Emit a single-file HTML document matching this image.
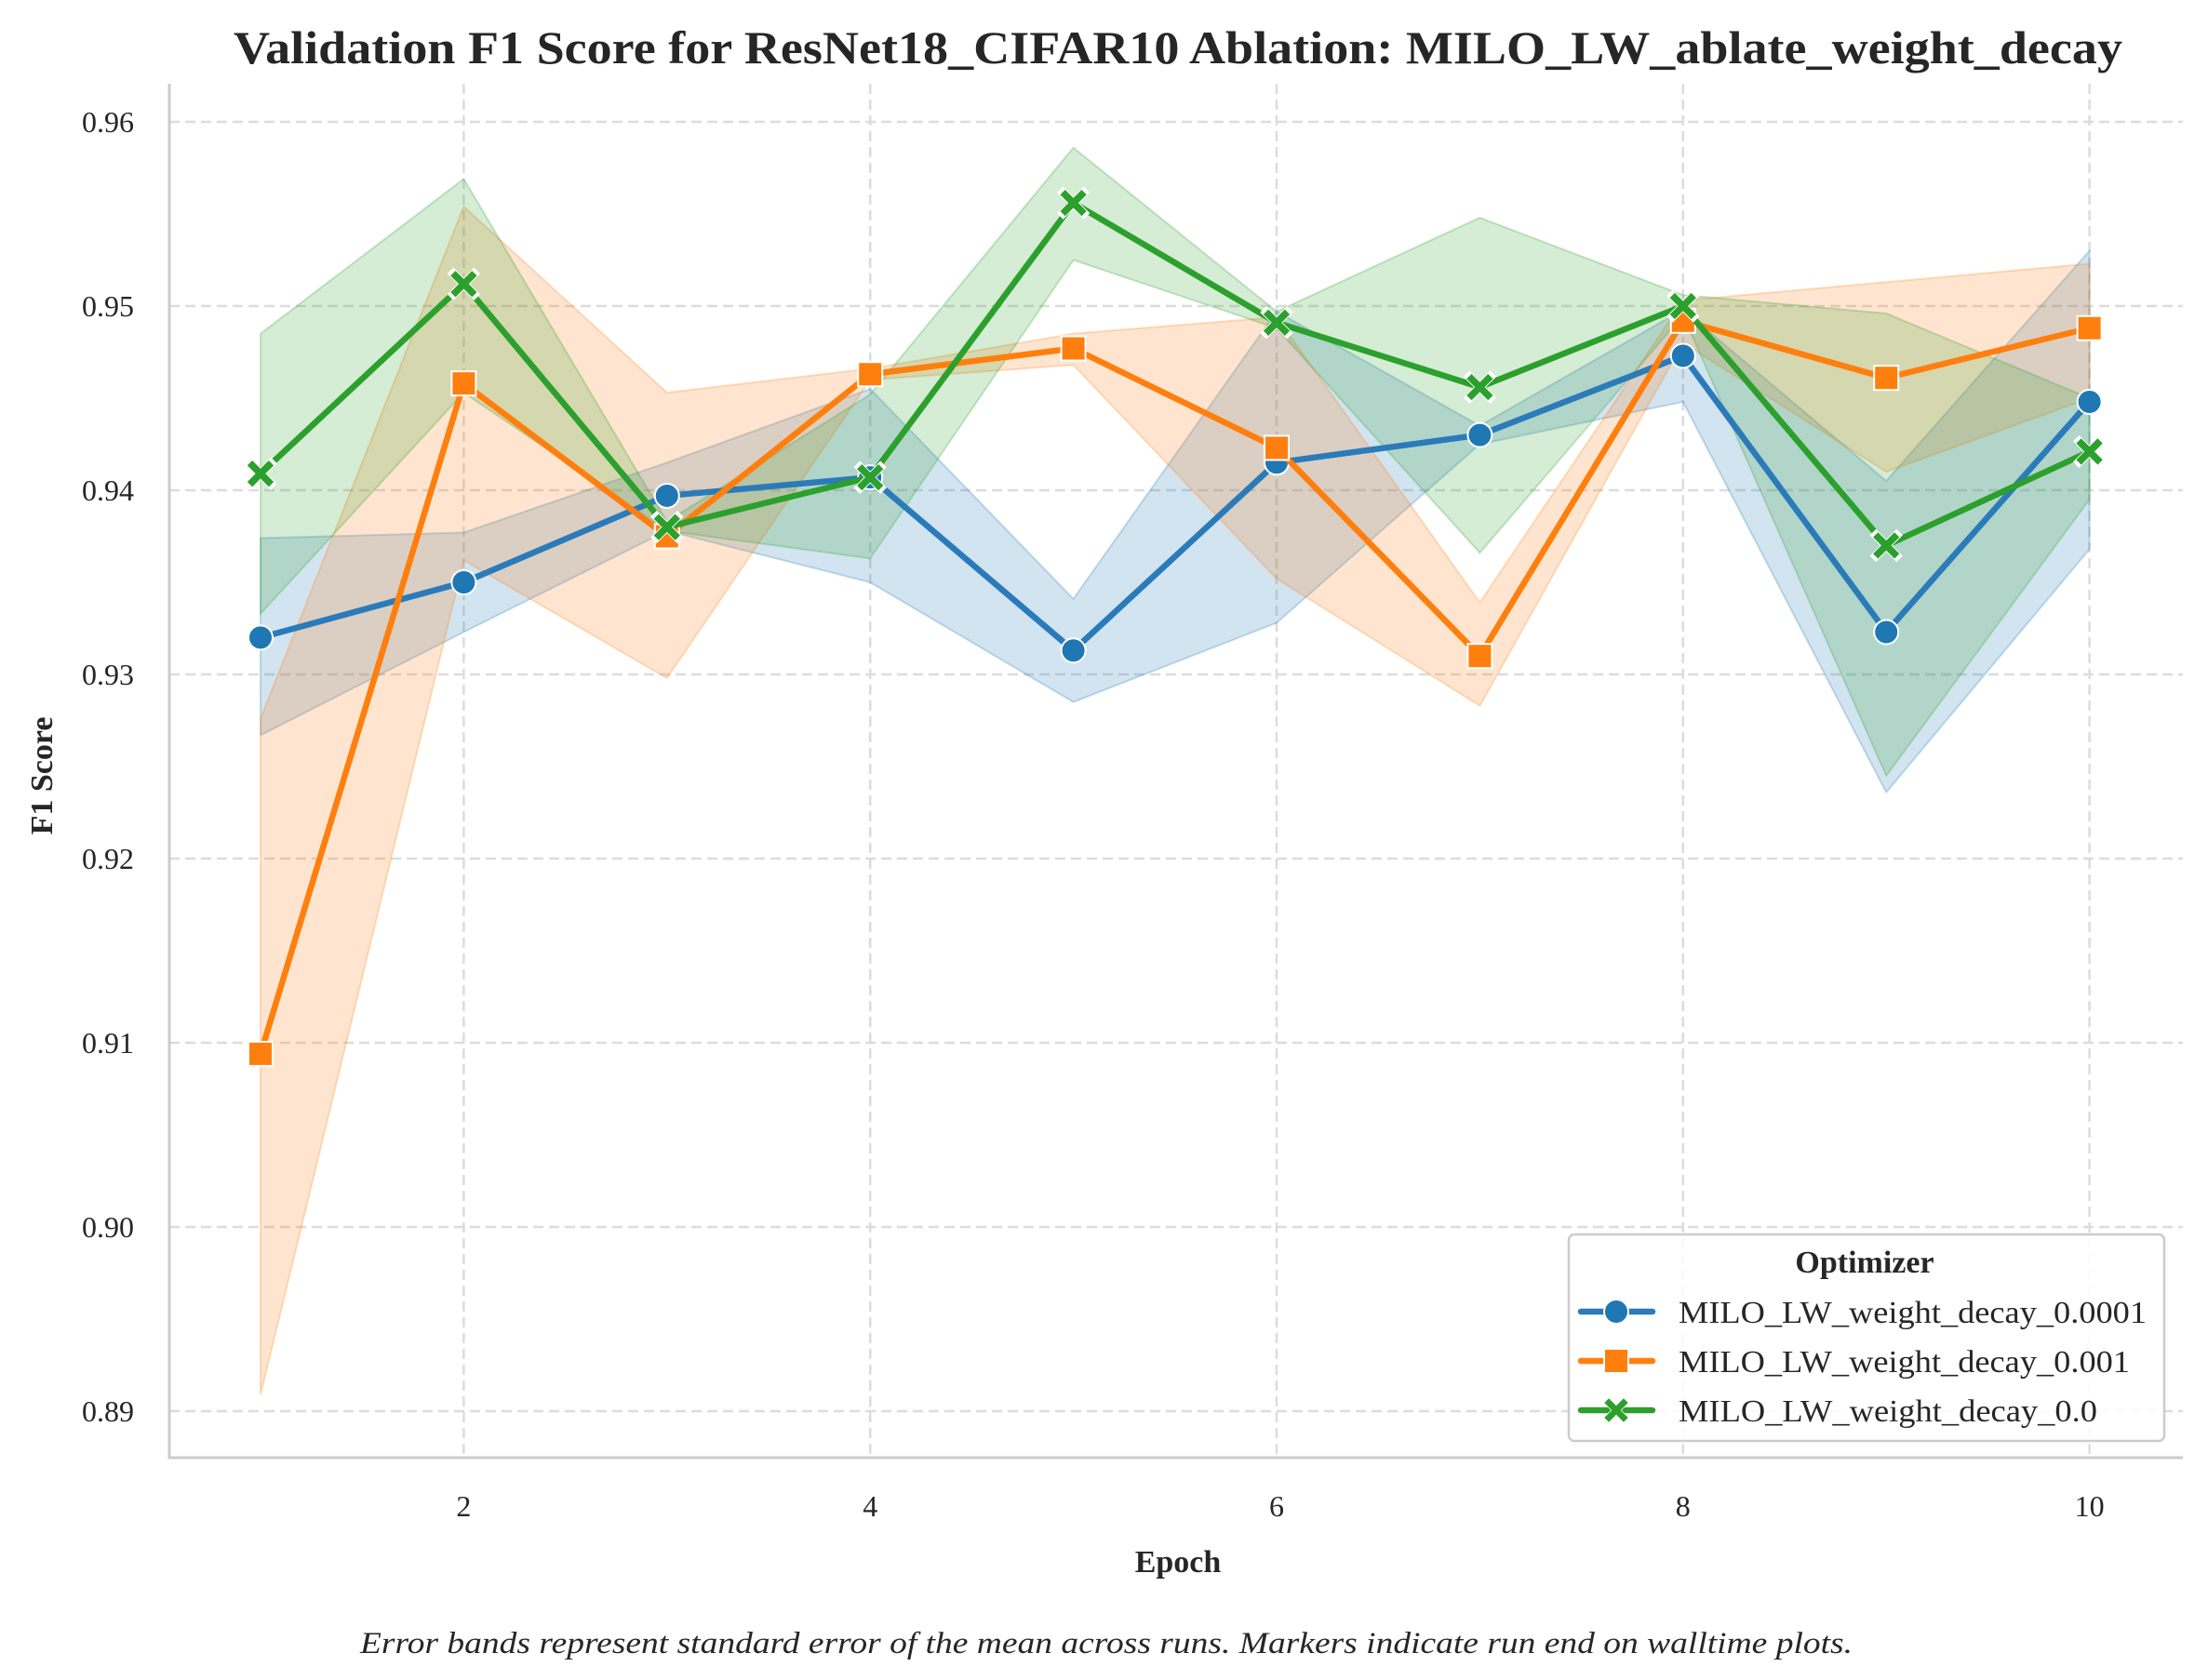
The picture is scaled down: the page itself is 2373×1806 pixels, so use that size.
<!DOCTYPE html>
<html><head><meta charset="utf-8"><style>
html,body{margin:0;padding:0;background:#fff}
svg{display:block}
text{font-family:"Liberation Serif",serif;fill:#262626}
</style></head><body>
<svg id="chart" width="2373" height="1806" viewBox="0 0 2373 1806" xmlns="http://www.w3.org/2000/svg">
<g id="grid"></g>
<g id="bands"></g>
<g id="lines"></g>
<g id="axes"></g>
<text x="1266" y="68" text-anchor="middle" font-size="50" font-weight="bold" textLength="2030" lengthAdjust="spacingAndGlyphs">Validation F1 Score for ResNet18_CIFAR10 Ablation: MILO_LW_ablate_weight_decay</text>
<text transform="translate(56,834) rotate(-90)" text-anchor="middle" font-size="34" font-weight="bold">F1 Score</text>
<text x="1266" y="1690" text-anchor="middle" font-size="34" font-weight="bold">Epoch</text>
<text x="1189" y="1777" text-anchor="middle" font-size="33" font-style="italic" textLength="1604" lengthAdjust="spacingAndGlyphs">Error bands represent standard error of the mean across runs. Markers indicate run end on walltime plots.</text>
<g id="legend"></g>
</svg>
<script>
const epochs=[1,2,3,4,5,6,7,8,9,10];
const yTicks=[0.89,0.90,0.91,0.92,0.93,0.94,0.95,0.96];
const yTickLabels=["0.89","0.90","0.91","0.92","0.93","0.94","0.95","0.96"];
const xTicks=[2,4,6,8,10];
const seriesNames=["MILO_LW_weight_decay_0.0001","MILO_LW_weight_decay_0.001","MILO_LW_weight_decay_0.0"];
const blueMean=[0.932,0.935,0.9397,0.9407,0.9313,0.9415,0.943,0.9473,0.9323,0.9448];
const blueLo=[0.9267,0.9323,0.9378,0.935,0.9285,0.9328,0.9425,0.9448,0.9236,0.9368];
const blueHi=[0.9374,0.9377,0.9415,0.9455,0.9341,0.9497,0.9435,0.9498,0.9405,0.953];
const orangeMean=[0.9094,0.9458,0.9375,0.9463,0.9477,0.9423,0.931,0.9492,0.9461,0.9488];
const orangeLo=[0.8909,0.9362,0.9298,0.946,0.9468,0.9352,0.9283,0.948,0.941,0.945];
const orangeHi=[0.9276,0.9554,0.9453,0.9466,0.9485,0.9494,0.9339,0.9503,0.9513,0.9523];
const greenMean=[0.9409,0.9512,0.938,0.9407,0.9556,0.9491,0.9456,0.95,0.937,0.9421];
const greenLo=[0.9333,0.9453,0.9378,0.9363,0.9525,0.9488,0.9366,0.9495,0.9245,0.9395];
const greenHi=[0.9485,0.9569,0.9383,0.9452,0.9586,0.9497,0.9548,0.9506,0.9496,0.945];

const NS="http://www.w3.org/2000/svg";
const L=182,R=2346,T=90,B=1567;
const xs=e=>280+(e-1)*218.4;
const ys=v=>131+(0.96-v)*19800;
function mk(tag,attrs,parent){const el=document.createElementNS(NS,tag);for(const k in attrs)el.setAttribute(k,attrs[k]);parent.appendChild(el);return el;}
const grid=document.getElementById('grid'),axes=document.getElementById('axes');
yTicks.forEach((v,i)=>{
 const g=mk('line',{x1:L,x2:R,y1:ys(v),y2:ys(v),stroke:'#dcdcdc','stroke-width':2.5,'stroke-dasharray':'11,6'},grid);
 
 
 const t=mk('text',{x:144,y:ys(v)+11,'text-anchor':'end','font-size':32},axes);
 t.textContent=yTickLabels[i];
 
 
});
xTicks.forEach(e=>{
 const g=mk('line',{x1:xs(e),x2:xs(e),y1:T,y2:B,stroke:'#dcdcdc','stroke-width':2.5,'stroke-dasharray':'11,6'},grid);
 
 
 const t=mk('text',{x:xs(e),y:1630,'text-anchor':'middle','font-size':32},axes);
 t.textContent=String(e);
 
 
});
const sp1=mk('line',{x1:L,x2:L,y1:T,y2:B+1.5,stroke:'#cccccc','stroke-width':3},axes);


const sp2=mk('line',{x1:L,x2:R,y1:B,y2:B,stroke:'#cccccc','stroke-width':3},axes);



const series=[
 {m:blueMean,lo:blueLo,hi:blueHi,c:'#2b7bba',f:'#1f77b4',mk:'circle',n:'blue'},
 {m:orangeMean,lo:orangeLo,hi:orangeHi,c:'#ff7f0e',f:'#ff7f0e',mk:'square',n:'orange'},
 {m:greenMean,lo:greenLo,hi:greenHi,c:'#2ca02c',f:'#2ca02c',mk:'x',n:'green'}];
const bands=document.getElementById('bands'),lines=document.getElementById('lines');
function marker(type,x,y,color,parent,s){
 let el;
 if(type==='circle'){el=mk('circle',{cx:x,cy:y,r:13*s,fill:color,stroke:'#fff','stroke-width':2},parent);}
 else if(type==='square'){el=mk('rect',{x:x-13*s,y:y-13*s,width:26*s,height:26*s,fill:color,stroke:'#fff','stroke-width':2},parent);}
 else{const a=11.5*s;el=mk('path',{d:`M${x-a},${y-a}L${x+a},${y+a}M${x+a},${y-a}L${x-a},${y+a}`,stroke:color,'stroke-width':7.5*s,fill:'none'},parent);}
 return el;
}
series.forEach((s,si)=>{
 let d=epochs.map((e,i)=>(i?'L':'M')+xs(e)+','+ys(s.hi[i])).join('');
 d+=epochs.slice().reverse().map((e,j)=>'L'+xs(e)+','+ys(s.lo[epochs.length-1-j])).join('')+'Z';
 const b=mk('path',{d,fill:s.f,'fill-opacity':0.2,stroke:s.f,'stroke-opacity':0.25,'stroke-width':2},bands);
 
 
});
series.forEach((s,si)=>{
 const g=mk('g',{},lines);
 
 
 const pl=mk('polyline',{points:epochs.map((e,i)=>xs(e)+','+ys(s.m[i])).join(' '),fill:'none',stroke:s.c,'stroke-width':6.5,'stroke-linejoin':'round'},g);
 
 
 epochs.forEach((e,i)=>{
  if(s.mk==='x'){const w=marker('x',xs(e),ys(s.m[i]),'#fff',g,1.25);}
  const el=marker(s.mk,xs(e),ys(s.m[i]),s.f,g,1);
  
  
 });
});
const lg=document.getElementById('legend');
const box=mk('rect',{x:1686,y:1327,width:640,height:222,rx:6,fill:'#fff','fill-opacity':0.85,stroke:'#cccccc','stroke-width':2.5},lg);


const lt=mk('text',{x:2004,y:1368,'text-anchor':'middle','font-size':34,'font-weight':'bold'},lg);
lt.textContent='Optimizer';


series.forEach((s,i)=>{
 const y=1410+i*53;
 const g=mk('g',{},lg);
 
 
 mk('line',{x1:1699,x2:1776,y1:y,y2:y,stroke:s.c,'stroke-width':6.5,'stroke-linecap':'round'},g);
 if(s.mk==='x')marker('x',1737,y,'#fff',g,1.1);
 marker(s.mk,1737,y,s.f,g,s.mk==='x'?0.9:1);
 const t=mk('text',{x:1804,y:y+12,'font-size':34,textLength:[503,485,450][i],lengthAdjust:'spacingAndGlyphs'},g);
 t.textContent=seriesNames[i];
});
</script>
</body></html>
